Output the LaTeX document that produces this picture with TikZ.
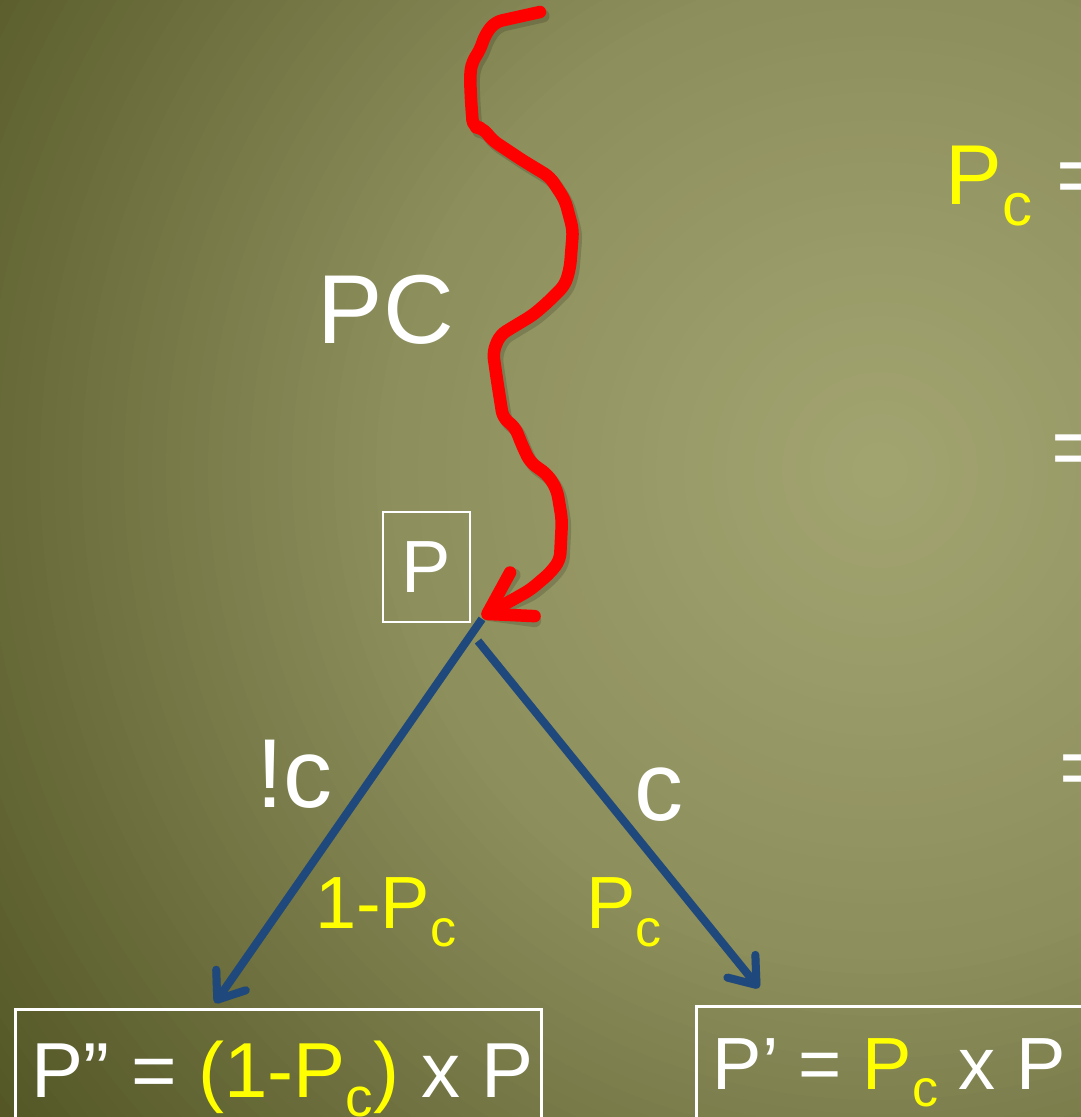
\documentclass[tikz,border=0pt]{standalone}
\usepackage{fontspec}
\setmainfont{Liberation Sans}
\usetikzlibrary{arrows.meta}
\definecolor{bgA}{HTML}{A3A571}
\definecolor{bgB}{HTML}{8C8E5C}
\definecolor{bgC}{HTML}{4E5220}
\definecolor{yel}{HTML}{FFFF00}
\definecolor{arrowblue}{HTML}{1F497D}
\newcommand\subc[2]{\raisebox{-#2pt}{\fontsize{#1}{#1}\selectfont c}}
\newcommand\fsz[1]{\fontsize{#1}{#1}\selectfont}
\newcommand\redcurve{(540,12) -- (495,22) -- (485,35) -- (480,50) -- (472,62) -- (470,75) -- (471,100) -- (473,127) -- (483,128) -- (492,140) -- (522,160) -- (550,177) -- (565,200) -- (573,230) -- (570,268) -- (565,285) -- (548,302) -- (533,315) -- (513,327) -- (500,335) -- (493,352) -- (497,380) -- (503,418) -- (515,427) -- (522,445) -- (530,462) -- (548,475) -- (557,490) -- (562,520) -- (560,560) -- (550,573) -- (530,590) -- (redtip)}
\begin{document}
\begin{tikzpicture}[x=1pt,y=-1pt,
  txt/.style={inner sep=0pt, anchor=base west, text=white},
  pbox/.style={draw=white, line width=2pt, text=white, inner sep=0pt, minimum width=87pt, minimum height=110pt, font=\fsz{74}},
  formbox/.style={draw=white, line width=2.5pt, anchor=north west, inner sep=0pt},
  redline/.style={draw=red, line width=12.5pt, line cap=round, line join=round, rounded corners=7pt, -{Straight Barb[round,length=40pt,width=50pt]}},
  redshadow/.style={draw=black, opacity=0.15, line width=13pt, line cap=round, line join=round, rounded corners=7pt, -{Straight Barb[round,length=40pt,width=50pt]}},
  blueline/.style={draw=arrowblue, line width=8pt, -{Straight Barb[round,length=24pt,width=36pt]}},
  blueshadow/.style={draw=black, opacity=0.15, line width=8pt, -{Straight Barb[round,length=24pt,width=36pt]}}
]
\useasboundingbox (0,0) rectangle (1081,1117);
\begin{scope}
\clip (0,0) rectangle (1081,1117);
\foreach \i in {0,...,99} {
  \pgfmathsetmacro\r{1400*(1-\i/100)}
  \pgfmathsetmacro\pp{\r>500 ? min(100,(\r-500)/6.5) : \r/5}
  \ifdim\r pt>500pt \colorlet{ring}{bgC!\pp!bgB}\else\colorlet{ring}{bgB!\pp!bgA}\fi
  \fill[ring] (880,470) circle[radius=\r];
}

% P box
\node[pbox] (P) at (426.5,567) {P};

% coordinates
\coordinate (redtip) at (482,617);
\coordinate (bl0) at (482,619);
\coordinate (lefttip) at (215,1003);
\coordinate (br0) at (478,641);
\coordinate (righttip) at (759,988);

% shadows
\begin{scope}[shift={(3,4)}]
\draw[redshadow] \redcurve;
\draw[blueshadow] (bl0) -- (lefttip);
\draw[blueshadow] (br0) -- (righttip);
\end{scope}

% red wavy arrow
\draw[redline] \redcurve;

% blue arrows
\draw[blueline] (bl0) -- (lefttip);
\draw[blueline] (br0) -- (righttip);

% labels
\node[txt, font=\fsz{98}] (pc) at (317.5,343) {PC};
\node[txt, font=\fsz{98}] (notc) at (256,807) {!c};
\node[txt, font=\fsz{98}] (c) at (634,820) {c};
\node[txt, font=\fsz{74}, text=yel] (onemp) at (315,928) {1-P\subc{52}{18}};
\node[txt, font=\fsz{74}, text=yel] (pcl) at (586,928) {P\subc{52}{18}};

% right side (cut off by the frame, as in the reference)
\node[txt, font=\fsz{85}] (pceq) at (945.5,204) {\textcolor{yel}{P\subc{60}{21}} =};
\node[txt, font=\fsz{85}] (eq2) at (1051,476) {=};
\node[txt, font=\fsz{85}] (eq3) at (1059,796) {=};

% bottom boxes
\node[formbox, minimum width=526pt, minimum height=130pt] (lbox) at (14,1008) {};
\node[formbox, minimum width=420pt, minimum height=130pt] (rbox) at (695,1005) {};
\node[txt, font=\fsz{78}] (lform) at (31.5,1097) {P” = \textcolor{yel}{(1-P\subc{55}{19})} x P};
\node[txt, font=\fsz{74}] (rform) at (712.5,1089) {P’ = \textcolor{yel}{P\subc{52}{17}} x P};
\end{scope}
\end{tikzpicture}
\end{document}
